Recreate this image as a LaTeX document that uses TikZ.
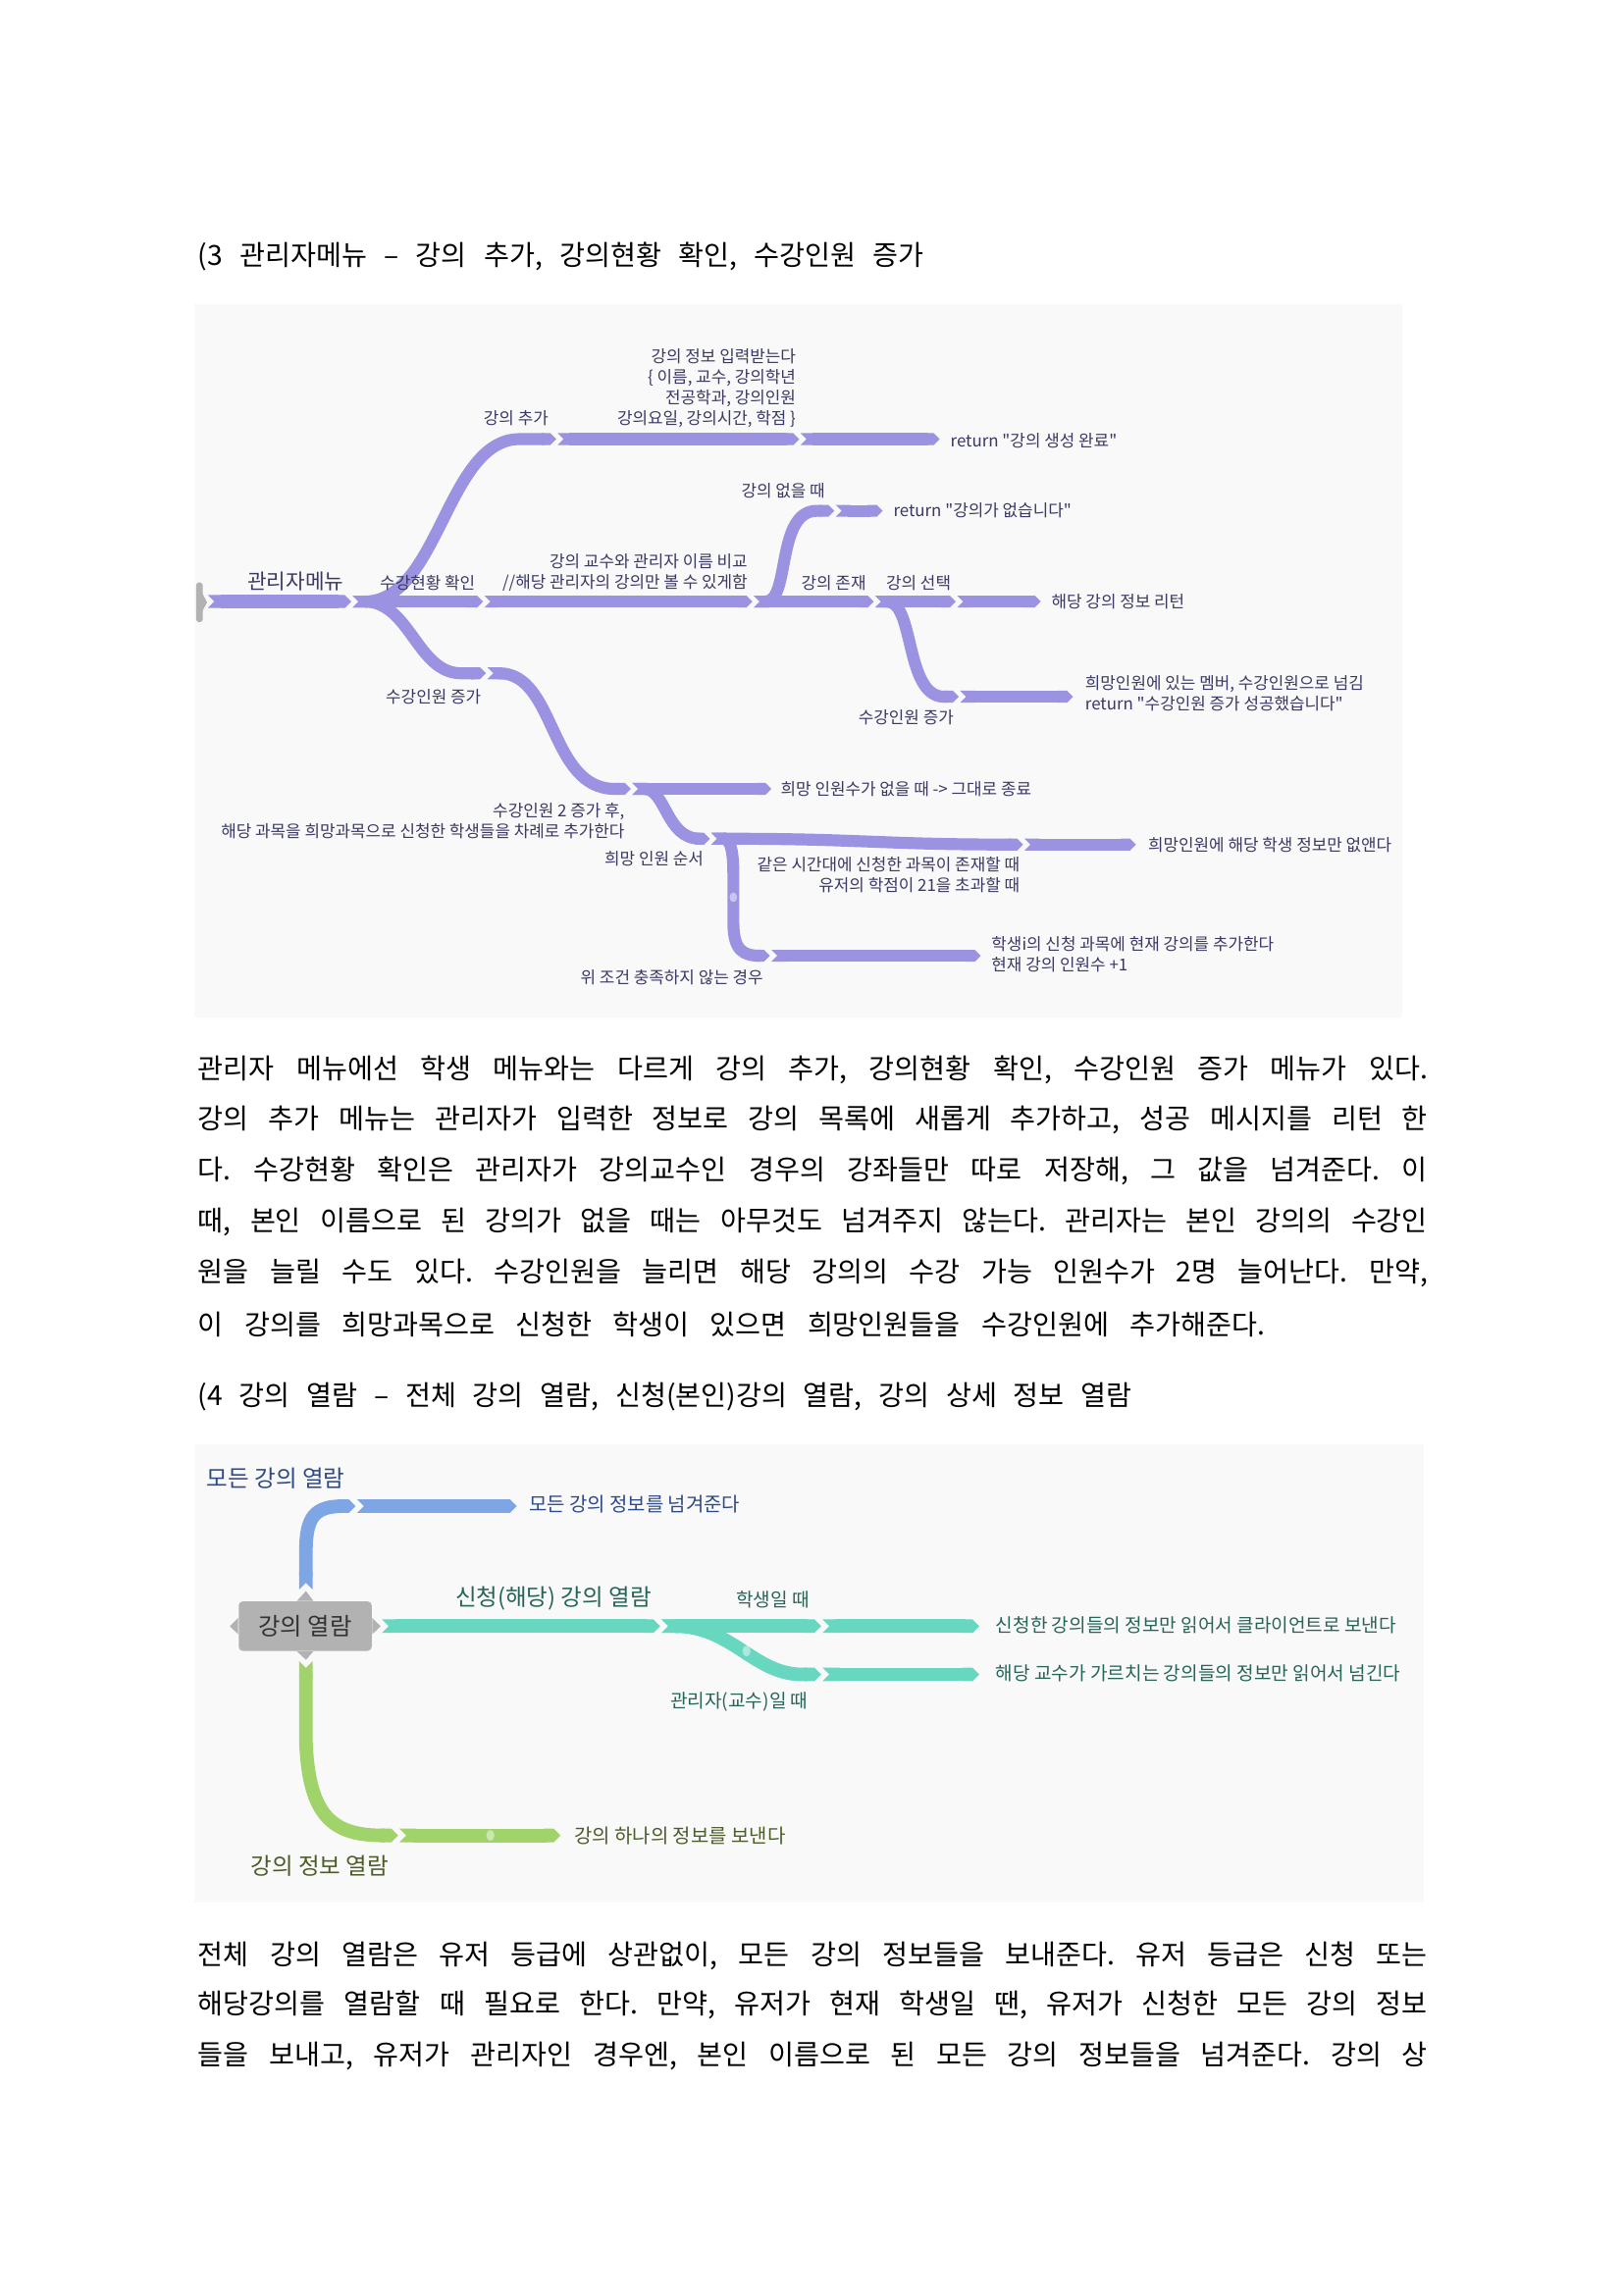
\documentclass[tikz,border=0pt]{standalone}
\usepackage{fontspec}
\setmainfont{Noto Sans CJK KR}
\newfontfamily\qfont{Noto Sans CJK KR}
\usetikzlibrary{arrows.meta}
\usetikzlibrary{positioning}

\definecolor{lav}{RGB}{155,147,226}
\definecolor{lavtxt}{RGB}{58,56,100}
\definecolor{panel}{RGB}{249,249,250}
\definecolor{blu}{RGB}{126,166,229}
\definecolor{blutxt}{RGB}{44,74,135}
\definecolor{tea}{RGB}{104,215,192}
\definecolor{teatxt}{RGB}{38,100,88}
\definecolor{grn}{RGB}{160,212,106}
\definecolor{grntxt}{RGB}{75,92,40}
\definecolor{hubgray}{RGB}{178,178,178}

\newcommand{\fitline}[2]{\makebox[#1][s]{\frenchspacing\spaceskip=0.25em plus 3em\relax #2}}
\newcommand{\dq}{{\qfont\char34}}

\tikzset{
	seg/.style={line width=4.4pt, draw=lav, {Triangle Cap[reversed]}-{Triangle Cap}, shorten <=0.5pt},
	bseg/.style={seg, line width=5pt, draw=#1},
	lbl/.style={inner sep=0pt, text=lavtxt, font=\fontsize{6.1}{7.6}\selectfont},
	body/.style={anchor=west, inner sep=0pt, font=\fontsize{10.2}{12}\selectfont},
	head/.style={inner sep=0pt, font=\fontsize{8.5}{10}\selectfont},
	note/.style={inner sep=0pt, font=\fontsize{7.2}{8}\selectfont},
	hub/.style={fill=hubgray, text={rgb,255:red,51;green,51;blue,51}, rounded corners=1.5pt,
		minimum width=1.72cm, minimum height=0.64cm, inner sep=0pt, font=\fontsize{8.8}{10}\selectfont}
}

\begin{document}
\begin{tikzpicture}[x=0.018936cm, y=-0.018936cm]
	\useasboundingbox (0,0) rectangle (1109,1568);
	\fill[white] (0,0) rectangle (1109,1568);

	% (3 admin menu
	\node[body] (t3) at (135,175) {\fitline{9.39cm}{(3 관리자메뉴 – 강의 추가, 강의현황 확인, 수강인원 증가}};

	\fill[panel] (133,208) rectangle (958,695);
	\fill[hubgray, rounded corners=1pt] (134,398) rectangle (138.5,425);
	\fill[hubgray] (138,405) -- (141.5,411.5) -- (138,418) -- cycle;

	\coordinate (tab) at (141,411);
	\coordinate (mnu) at (240,411);
	\coordinate (add) at (380,300);
	\coordinate (addIn) at (546,300);
	\coordinate (addEnd) at (642,300);
	\coordinate (chk) at (330,411);
	\coordinate (cmp) at (514,411);
	\coordinate (none) at (570,349);
	\coordinate (noneEnd) at (603,349);
	\coordinate (exist) at (597,411);
	\coordinate (sel) at (653,411);
	\coordinate (selEnd) at (711,411);
	\coordinate (inc) at (655,476);
	\coordinate (incEnd) at (733,476);
	\coordinate (up) at (332,460);
	\coordinate (upTwo) at (431,539);
	\coordinate (noWish) at (527,539);
	\coordinate (order) at (485,573);
	\coordinate (drop) at (699,577);
	\coordinate (dropEnd) at (776,577);
	\coordinate (other) at (526,653);
	\coordinate (otherEnd) at (670,653);

	\draw[seg, line width=4.8pt] (tab) -- (mnu);
	\draw[seg] (mnu) .. controls (300,411) and (305,300) .. (355,300) -- (add);
	\draw[seg] (add) -- (addIn);
	\draw[seg] (addIn) -- (addEnd);
	\draw[seg] (mnu) -- (chk);
	\draw[seg] (chk) -- (cmp);
	\draw[seg] (cmp) .. controls (540,411) and (530,349) .. (558,349) -- (none);
	\draw[seg] (none) -- (noneEnd);
	\draw[seg] (cmp) -- (exist);
	\draw[seg] (exist) -- (sel);
	\draw[seg] (sel) -- (selEnd);
	\draw[seg] (exist) .. controls (625,411) and (618,476) .. (645,476) -- (inc);
	\draw[seg] (inc) -- (incEnd);
	\draw[seg] (mnu) .. controls (280,411) and (285,460) .. (315,460) -- (up);
	\draw[seg] (up) .. controls (380,460) and (375,539) .. (420,539) -- (upTwo);
	\draw[seg] (upTwo) -- (noWish);
	\draw[seg] (upTwo) .. controls (455,539) and (455,573) .. (478,573) -- (order);
	\draw[seg] (order) .. controls (590,573) and (600,577) .. (drop);
	\draw[seg] (drop) -- (dropEnd);
	\draw[seg] (order) .. controls (500,573) and (501,585) .. (501,598) -- (501,630) .. controls (501,650) and (508,653) .. (520,653) -- (other);
	\draw[seg] (other) -- (otherEnd);
	\fill[white, opacity=.45] (501,613) ellipse (1.4pt and 1.8pt);

	\node[lbl, font=\fontsize{7.7}{9}\selectfont] (menu) at (202,397) {관리자메뉴};
	\node[lbl, anchor=east] (addLbl) at (375,286) {강의 추가};
	\node[lbl, anchor=east, align=right] (addInfo) at (544,265) {강의 정보 입력받는다\\\{ 이름, 교수, 강의학년\\전공학과, 강의인원\\강의요일, 강의시간, 학점 \}};
	\node[lbl, anchor=west] (addRet) at (649,301) {return \dq 강의 생성 완료\dq};
	\node[lbl, anchor=east] (noneLbl) at (564,335) {강의 없을 때};
	\node[lbl, anchor=west] (noneRet) at (610,349) {return \dq 강의가 없습니다\dq};
	\node[lbl, anchor=east] (chkLbl) at (325,398) {수강현황 확인};
	\node[lbl, anchor=east, align=right] (cmpLbl) at (511,391) {강의 교수와 관리자 이름 비교\\//해당 관리자의 강의만 볼 수 있게함};
	\node[lbl, anchor=east] (existLbl) at (592,398) {강의 존재};
	\node[lbl, anchor=east] (selLbl) at (650,398) {강의 선택};
	\node[lbl, anchor=west] (selRet) at (718,411) {해당 강의 정보 리턴};
	\node[lbl, anchor=west, align=left] (incRet) at (741,474) {희망인원에 있는 멤버, 수강인원으로 넘김\\return \dq 수강인원 증가 성공했습니다\dq};
	\node[lbl] (incLbl) at (619,490) {수강인원 증가};
	\node[lbl, anchor=east] (upLbl) at (329,476) {수강인원 증가};
	\node[lbl, anchor=east, align=right] (upTwoLbl) at (427,561) {수강인원 2 증가 후,\\해당 과목을 희망과목으로 신청한 학생들을 차례로 추가한다};
	\node[lbl, anchor=west] (noWishRet) at (533,539) {희망 인원수가 없을 때 -> 그대로 종료};
	\node[lbl, anchor=east] (orderLbl) at (481,587) {희망 인원 순서};
	\node[lbl, anchor=east, align=right] (dropLbl) at (697,598) {같은 시간대에 신청한 과목이 존재할 때\\유저의 학점이 21을 초과할 때};
	\node[lbl, anchor=west] (dropRet) at (784,577) {희망인원에 해당 학생 정보만 없앤다};
	\node[lbl, anchor=west, align=left] (otherRet) at (677,652) {학생i의 신청 과목에 현재 강의를 추가한다\\현재 강의 인원수 +1};
	\node[lbl] (otherLbl) at (459,668) {위 조건 충족하지 않는 경우};

	% text under the first map
	\node[body] (p1) at (135,731) {\fitline{15.906cm}{관리자 메뉴에선 학생 메뉴와는 다르게 강의 추가, 강의현황 확인, 수강인원 증가 메뉴가 있다.}};
	\node[body] (p2) at (135,765) {\fitline{15.906cm}{강의 추가 메뉴는 관리자가 입력한 정보로 강의 목록에 새롭게 추가하고, 성공 메시지를 리턴 한}};
	\node[body] (p3) at (135,800) {\fitline{15.906cm}{다. 수강현황 확인은 관리자가 강의교수인 경우의 강좌들만 따로 저장해, 그 값을 넘겨준다. 이}};
	\node[body] (p4) at (135,835) {\fitline{15.906cm}{때, 본인 이름으로 된 강의가 없을 때는 아무것도 넘겨주지 않는다. 관리자는 본인 강의의 수강인}};
	\node[body] (p5) at (135,870) {\fitline{15.906cm}{원을 늘릴 수도 있다. 수강인원을 늘리면 해당 강의의 수강 가능 인원수가 2명 늘어난다. 만약,}};
	\node[body] (p6) at (135,905) {\fitline{13.80cm}{이 강의를 희망과목으로 신청한 학생이 있으면 희망인원들을 수강인원에 추가해준다.}};

	% (4 course listing
	\node[body] (t4) at (135,954) {\fitline{12.08cm}{(4 강의 열람 – 전체 강의 열람, 신청(본인)강의 열람, 강의 상세 정보 열람}};

	\fill[panel] (133,987) rectangle (973,1300);

	\coordinate (topTip) at (209,1087);
	\coordinate (allBend) at (243,1029);
	\coordinate (allEnd) at (353,1029);
	\coordinate (rTip) at (260,1111);
	\coordinate (mine) at (451,1111);
	\coordinate (stu) at (561,1111);
	\coordinate (stuEnd) at (669,1111);
	\coordinate (prof) at (561,1144);
	\coordinate (profEnd) at (669,1144);
	\coordinate (bTip) at (209,1134);
	\coordinate (one) at (272,1254);
	\coordinate (oneEnd) at (383,1254);

	\draw[bseg=blu] (topTip) -- (209,1060) .. controls (209,1036) and (215,1029) .. (235,1029) -- (allBend);
	\draw[bseg=blu] (allBend) -- (allEnd);
	\draw[bseg=tea] (rTip) -- (mine);
	\draw[bseg=tea] (mine) -- (stu);
	\draw[bseg=tea] (stu) -- (stuEnd);
	\draw[bseg=tea] (mine) .. controls (500,1111) and (515,1144) .. (548,1144) -- (prof);
	\draw[bseg=tea] (prof) -- (profEnd);
	\draw[bseg=grn] (bTip) -- (209,1190) .. controls (211,1242) and (228,1254) .. (262,1254) -- (one);
	\draw[bseg=grn] (one) -- (oneEnd);
	\fill[white, opacity=.45] (510,1128) ellipse (1.5pt and 2pt);
	\fill[white, opacity=.45] (335,1254) ellipse (1.5pt and 2pt);

	\node[hub] (view) at (208.5,1111) {강의 열람};
	\fill[hubgray] ([xshift=-3pt]view.north) -- (topTip) -- ([xshift=3pt]view.north) -- cycle;
	\fill[hubgray] ([xshift=-3pt]view.south) -- (bTip) -- ([xshift=3pt]view.south) -- cycle;
	\fill[hubgray] ([yshift=-3pt]view.east) -- (rTip) -- ([yshift=3pt]view.east) -- cycle;
	\fill[hubgray] ([yshift=-3pt]view.west) -- (157,1111) -- ([yshift=3pt]view.west) -- cycle;

	\node[head, anchor=west, text=blutxt] (allLbl) at (141,1010) {모든 강의 열람};
	\node[note, anchor=west, text=blutxt] (allRet) at (361,1028) {모든 강의 정보를 넘겨준다};
	\node[head, text=teatxt] (mineLbl) at (378,1092) {신청(해당) 강의 열람};
	\node[note, text=teatxt, font=\fontsize{6.9}{8}\selectfont] (stuLbl) at (528,1093) {학생일 때};
	\node[note, text=teatxt, font=\fontsize{6.9}{8}\selectfont] (profLbl) at (505,1163) {관리자(교수)일 때};
	\node[note, anchor=west, text=teatxt, font=\fontsize{6.9}{8}\selectfont] (stuRet) at (680,1110) {신청한 강의들의 정보만 읽어서 클라이언트로 보낸다};
	\node[note, anchor=west, text=teatxt, font=\fontsize{6.9}{8}\selectfont] (profRet) at (680,1143) {해당 교수가 가르치는 강의들의 정보만 읽어서 넘긴다};
	\node[head, anchor=west, text=grntxt] (oneLbl) at (171,1275) {강의 정보 열람};
	\node[note, anchor=west, text=grntxt] (oneRet) at (392,1254) {강의 하나의 정보를 보낸다};

	% text under the second map
	\node[body] (q1) at (135,1336) {\fitline{15.906cm}{전체 강의 열람은 유저 등급에 상관없이, 모든 강의 정보들을 보내준다. 유저 등급은 신청 또는}};
	\node[body] (q2) at (135,1370) {\fitline{15.906cm}{해당강의를 열람할 때 필요로 한다. 만약, 유저가 현재 학생일 땐, 유저가 신청한 모든 강의 정보}};
	\node[body] (q3) at (135,1405) {\fitline{15.906cm}{들을 보내고, 유저가 관리자인 경우엔, 본인 이름으로 된 모든 강의 정보들을 넘겨준다. 강의 상}};
\end{tikzpicture}
\end{document}
